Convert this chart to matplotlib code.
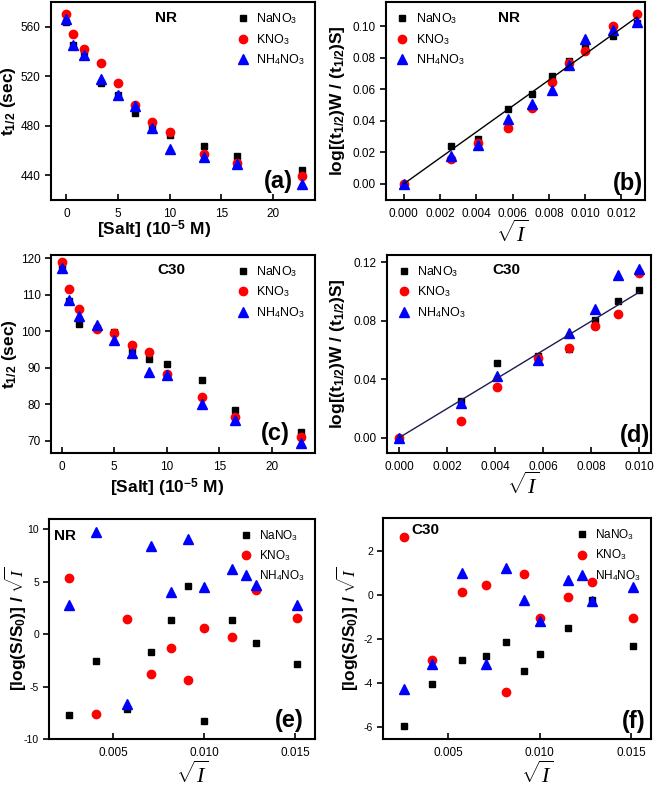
import numpy as np
import matplotlib
matplotlib.use("Agg")
import matplotlib.pyplot as plt

plt.rcParams['font.family'] = ['Liberation Sans', 'DejaVu Sans']
plt.rcParams['mathtext.fontset'] = 'custom'
plt.rcParams['mathtext.rm'] = 'Liberation Sans'
plt.rcParams['mathtext.bf'] = 'Liberation Sans:bold'
plt.rcParams['mathtext.it'] = 'Liberation Serif:italic'
plt.rcParams['axes.unicode_minus'] = False

# salt concentration (10^-5 M) and sqrt of ionic strength
salt = [0, 0.667, 1.667, 3.333, 5, 6.667, 8.333, 10, 13.33, 16.5, 22.8]
sqrt_i = [0, 0.00258, 0.00408, 0.00577, 0.00707, 0.00816, 0.00913, 0.0100, 0.01155, 0.01285, 0.0151]

# (a) NR half-life
nr_t_na = [563.8, 545.4, 540.0, 514.7, 504.7, 490.7, 479.6, 472.6, 463.7, 455.3, 444.5]
nr_t_k = [570.2, 554.1, 542.2, 530.6, 514.7, 496.6, 483.1, 474.8, 457.5, 450.0, 439.2]
nr_t_nh4 = [566.7, 545.4, 537.4, 518.2, 505.0, 495.8, 478.0, 461.0, 454.8, 449.4, 433.0]

# (b) NR log ratio (first 10 points)
nr_log_na = [0, 0.0238, 0.0287, 0.0477, 0.0567, 0.0686, 0.0780, 0.0863, 0.0937, 0.1021]
nr_log_k = [0, 0.0160, 0.0260, 0.0354, 0.0483, 0.0643, 0.0768, 0.0840, 0.1000, 0.1078]
nr_log_nh4 = [0, 0.0177, 0.0247, 0.0410, 0.0508, 0.0593, 0.0755, 0.0916, 0.0973, 0.1023]

# (c) C30 half-life
c30_t_na = [118.2, 108.2, 101.9, 100.8, 99.7, 94.9, 92.3, 91.0, 86.7, 78.4, 72.3]
c30_t_k = [119.1, 111.6, 106.0, 100.7, 99.6, 96.2, 94.3, 88.4, 81.9, 76.5, 71.1]
c30_t_nh4 = [117.2, 108.6, 104.3, 101.8, 97.5, 94.0, 88.9, 88.1, 80.1, 75.7, 69.3]

# (d) C30 log ratio (first 8 points)
c30_log_na = [0, 0.0251, 0.0513, 0.0560, 0.0606, 0.0805, 0.0934, 0.1008]
c30_log_k = [0, 0.0116, 0.0344, 0.0545, 0.0615, 0.0764, 0.0846, 0.1124]
c30_log_nh4 = [0, 0.0239, 0.0422, 0.0529, 0.0713, 0.0877, 0.1110, 0.1156]

# (e) NR [log(S/S0)]/sqrt(I), points 2..11
nr_s_na = [-7.73, -2.51, -7.15, -1.72, 1.37, 4.61, -8.33, 1.40, -0.83, -2.86]
nr_s_k = [5.37, -7.66, 1.49, -3.82, -1.34, -4.36, 0.60, -0.25, 4.26, 1.56]
nr_s_nh4 = [2.77, 9.73, -6.65, 8.39, 4.04, 9.06, 4.51, 6.20, 4.74, 2.80]

# (f) C30 [log(S/S0)]/sqrt(I)
c30_s_na = [-5.96, -4.03, -2.95, -2.75, -2.14, -3.44, -2.68, -1.49, -0.24, -2.30]
c30_s_k = [2.65, -2.95, 0.15, 0.44, -4.43, 0.97, -1.03, -0.08, 0.59, -1.06]
c30_s_nh4 = [-4.26, -3.13, 1.00, -3.13, 1.22, -0.20, -1.19, 0.71, -0.27, 0.37]

labels = ['NaNO$_3$', 'KNO$_3$', 'NH$_4$NO$_3$']
styles = [dict(marker='s', color='black', ms=5),
          dict(marker='o', color='red', ms=6),
          dict(marker='^', color='blue', ms=7)]

fig = plt.figure(figsize=(6.61, 7.94), dpi=100)
pos = {
    'a': [0.0772, 0.748, 0.3994, 0.2494],
    'b': [0.5835, 0.748, 0.3923, 0.2494],
    'c': [0.0772, 0.4299, 0.3994, 0.2494],
    'd': [0.5859, 0.4299, 0.399, 0.2494],
    'e': [0.0746, 0.0693, 0.402, 0.2771],
    'f': [0.5799, 0.0693, 0.405, 0.278],
}


def style_axes(ax, ysize=8.5):
    for sp in ax.spines.values():
        sp.set_linewidth(1.5)
    ax.tick_params(axis='x', direction='in', length=4, width=1.2, labelsize=8.5, pad=6)
    ax.tick_params(axis='y', direction='out', length=4, width=1.2, labelsize=ysize)


def scatter3(ax, x, ys):
    for y, lab, st in zip(ys, labels, styles):
        ax.plot(x[:len(y)], y, linestyle='none', label=lab, **st)


def legend(ax, loc, anchor, size=9):
    ax.legend(loc=loc, bbox_to_anchor=anchor, frameon=False, fontsize=size,
              handlelength=1.0, handletextpad=0.6, labelspacing=0.45,
              borderaxespad=0.2, numpoints=1)


def sqrt_label(ax, x, y):
    ax.text(x, y, r'$\sqrt{I}$', transform=ax.transAxes, ha='center', va='center',
            fontsize=16)


# (a)
ax = fig.add_axes(pos['a'])
scatter3(ax, salt, [nr_t_na, nr_t_k, nr_t_nh4])
ax.set_xlim(-1.5, 24.1)
ax.set_ylim(420, 580)
ax.set_xticks([0, 5, 10, 15, 20])
ax.set_yticks([440, 480, 520, 560])
style_axes(ax)
legend(ax, 'upper right', (0.99, 0.99))
ax.text(0.435, 0.92, 'NR', transform=ax.transAxes, ha='center', va='center', fontsize=11, fontweight='bold')
ax.text(0.86, 0.092, '(a)', transform=ax.transAxes, ha='center', va='center', fontsize=17, fontweight='bold')
ax.set_ylabel(r't$_{\mathbf{1/2}}$ (sec)', fontsize=12.5, fontweight='bold')
ax.yaxis.set_label_coords(-0.125, 0.5)
ax.text(0.39, -0.152, r'[Salt] (10$^{\mathbf{-5}}$ M)', transform=ax.transAxes, ha='center', va='center',
        fontsize=12.5, fontweight='bold')

# (b)
ax = fig.add_axes(pos['b'])
scatter3(ax, sqrt_i, [nr_log_na, nr_log_k, nr_log_nh4])
xb = np.array(sqrt_i[:10])
slope = np.sum(xb * np.array(nr_log_na)) / np.sum(xb * xb)
ax.plot([0, xb[-1]], [0, slope * xb[-1]], color='black', lw=1)
ax.set_xlim(-0.001, 0.0133)
ax.set_ylim(-0.0103, 0.1152)
ax.set_xticks(np.arange(0, 0.0121, 0.002))
ax.set_yticks(np.arange(0, 0.101, 0.02))
ax.xaxis.set_major_formatter(matplotlib.ticker.FormatStrFormatter('%.3f'))
ax.yaxis.set_major_formatter(matplotlib.ticker.FormatStrFormatter('%.2f'))
style_axes(ax)
legend(ax, 'upper left', (0.01, 0.99))
ax.text(0.475, 0.92, 'NR', transform=ax.transAxes, ha='center', va='center', fontsize=11, fontweight='bold')
ax.text(0.936, 0.086, '(b)', transform=ax.transAxes, ha='center', va='center', fontsize=17, fontweight='bold')
ax.set_ylabel(r'log[(t$_{\mathbf{1/2}}$)W / (t$_{\mathbf{1/2}}$)S]', fontsize=12.5, fontweight='bold')
ax.yaxis.set_label_coords(-0.149, 0.5)
sqrt_label(ax, 0.486, -0.172)

# (c)
ax = fig.add_axes(pos['c'])
scatter3(ax, salt, [c30_t_na, c30_t_k, c30_t_nh4])
ax.set_xlim(-1.0, 24.1)
ax.set_ylim(66.7, 121)
ax.set_xticks([0, 5, 10, 15, 20])
ax.set_yticks([70, 80, 90, 100, 110, 120])
style_axes(ax)
legend(ax, 'upper right', (0.99, 0.99))
ax.text(0.457, 0.92, 'C30', transform=ax.transAxes, ha='center', va='center', fontsize=11, fontweight='bold')
ax.text(0.851, 0.098, '(c)', transform=ax.transAxes, ha='center', va='center', fontsize=17, fontweight='bold')
ax.set_ylabel(r't$_{\mathbf{1/2}}$ (sec)', fontsize=12.5, fontweight='bold')
ax.yaxis.set_label_coords(-0.121, 0.5)
ax.text(0.438, -0.178, r'[Salt] (10$^{\mathbf{-5}}$ M)', transform=ax.transAxes, ha='center', va='center',
        fontsize=12.5, fontweight='bold')

# (d)
ax = fig.add_axes(pos['d'])
scatter3(ax, sqrt_i, [c30_log_na, c30_log_k, c30_log_nh4])
xd = np.array(sqrt_i[:8])
slope = np.sum(xd * np.array(c30_log_na)) / np.sum(xd * xd)
ax.plot([0, xd[-1]], [0, slope * xd[-1]], color='#1c1c50', lw=1)
ax.set_xlim(-0.0005, 0.0105)
ax.set_ylim(-0.0103, 0.1251)
ax.set_xticks(np.arange(0, 0.0101, 0.002))
ax.set_yticks([0, 0.04, 0.08, 0.12])
ax.xaxis.set_major_formatter(matplotlib.ticker.FormatStrFormatter('%.3f'))
ax.yaxis.set_major_formatter(matplotlib.ticker.FormatStrFormatter('%.2f'))
style_axes(ax)
legend(ax, 'upper left', (0.01, 0.99))
ax.text(0.453, 0.92, 'C30', transform=ax.transAxes, ha='center', va='center', fontsize=11, fontweight='bold')
ax.text(0.939, 0.089, '(d)', transform=ax.transAxes, ha='center', va='center', fontsize=17, fontweight='bold')
ax.set_ylabel(r'log[(t$_{\mathbf{1/2}}$)W / (t$_{\mathbf{1/2}}$)S]', fontsize=12.5, fontweight='bold')
ax.yaxis.set_label_coords(-0.153, 0.5)
sqrt_label(ax, 0.515, -0.168)

# (e)
ax = fig.add_axes(pos['e'])
scatter3(ax, sqrt_i[1:], [nr_s_na, nr_s_k, nr_s_nh4])
ax.set_xlim(0.0015, 0.0161)
ax.set_ylim(-10, 11)
ax.set_xticks([0.005, 0.010, 0.015])
ax.set_yticks([-10, -5, 0, 5, 10])
ax.xaxis.set_major_formatter(matplotlib.ticker.FormatStrFormatter('%.3f'))
style_axes(ax, ysize=7.5)
legend(ax, 'upper right', (0.99, 0.99), size=8.5)
ax.text(0.018, 0.923, 'NR', transform=ax.transAxes, ha='left', va='center', fontsize=11, fontweight='bold')
ax.text(0.902, 0.086, '(e)', transform=ax.transAxes, ha='center', va='center', fontsize=17, fontweight='bold')
ax.set_ylabel(r'[log(S/S$_{\mathbf{0}}$)] / $\sqrt{I}$', fontsize=12.5, fontweight='bold')
ax.yaxis.set_label_coords(-0.075, 0.5)
sqrt_label(ax, 0.536, -0.164)

# (f)
ax = fig.add_axes(pos['f'])
scatter3(ax, sqrt_i[1:], [c30_s_na, c30_s_k, c30_s_nh4])
ax.set_xlim(0.00144, 0.0161)
ax.set_ylim(-6.55, 3.5)
ax.set_xticks([0.005, 0.010, 0.015])
ax.set_yticks([-6, -4, -2, 0, 2])
ax.xaxis.set_major_formatter(matplotlib.ticker.FormatStrFormatter('%.3f'))
style_axes(ax, ysize=7.5)
legend(ax, 'upper right', (0.99, 0.99), size=8.5)
ax.text(0.106, 0.946, 'C30', transform=ax.transAxes, ha='left', va='center', fontsize=11, fontweight='bold')
ax.text(0.936, 0.078, '(f)', transform=ax.transAxes, ha='center', va='center', fontsize=17, fontweight='bold')
ax.set_ylabel(r'[log(S/S$_{\mathbf{0}}$)] / $\sqrt{I}$', fontsize=12.5, fontweight='bold')
ax.yaxis.set_label_coords(-0.085, 0.5)
sqrt_label(ax, 0.573, -0.163)

fig.savefig('out.png', dpi=100)
